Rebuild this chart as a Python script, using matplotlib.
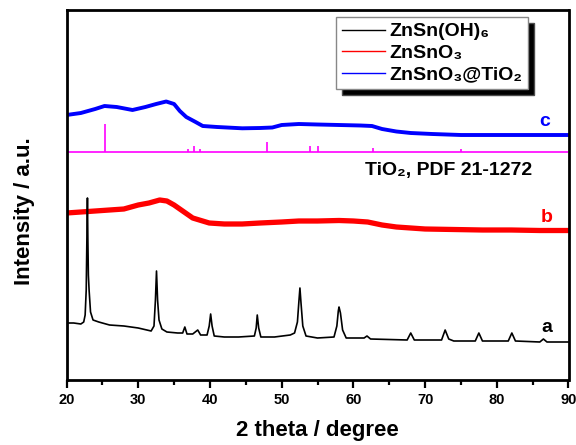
import matplotlib
matplotlib.use('Agg')
import matplotlib.pyplot as plt
from matplotlib.lines import Line2D
from matplotlib.ticker import MultipleLocator

plt.rcParams['font.family'] = ['Liberation Sans', 'DejaVu Sans']
plt.rcParams['font.weight'] = 'bold'
plt.rcParams['axes.labelweight'] = 'bold'

# a: ZnSn(OH)6 (2 theta, intensity a.u.)
theta_a = [20.0, 21.0, 22.0, 22.4, 22.6, 22.75, 22.85, 22.92, 22.98, 23.05, 23.15, 23.35, 23.7,
           24.5, 26.0, 28.0, 30.0, 31.8, 32.2, 32.4, 32.55, 32.7, 32.9, 33.3, 34.0, 35.5,
           36.2, 36.5, 36.8, 37.6, 38.3, 38.7, 39.6, 39.9, 40.1, 40.3, 40.6, 42.0, 44.0,
           46.2, 46.45, 46.6, 46.8, 47.1, 49.0, 51.2, 51.8, 52.2, 52.4, 52.55, 52.7, 52.95,
           53.4, 55.0, 57.3, 57.7, 57.9, 58.0, 58.2, 58.5, 59.0, 61.5, 61.9, 62.4, 67.5,
           68.0, 68.5, 72.3, 72.8, 73.3, 74.0, 77.0, 77.5, 78.0, 81.6, 82.1, 82.6, 86.0,
           86.5, 87.0, 90.0]
int_a = [57, 57, 56, 58, 65, 90, 145, 182, 140, 105, 90, 68, 60,
         58, 55, 54, 52, 49, 54, 80, 109, 80, 60, 51, 48, 47,
         47, 53, 46, 46, 50, 45, 45, 54, 66, 54, 44, 43, 43,
         44, 52, 65, 52, 43, 43, 45, 47, 58, 78, 92, 77, 54,
         44, 42, 43, 54, 69, 73, 67, 50, 42, 42, 44, 41, 40,
         47, 40, 40, 50, 41, 39, 39, 47, 39, 39, 47, 39, 38,
         41, 38, 38]

# b: ZnSnO3
theta_b = [20, 22, 24, 26, 28, 30, 31.5, 33, 34, 35, 36.2, 37.6, 39.9, 42, 44.5, 47, 50,
           52.4, 55, 58, 60, 62, 64, 66, 68, 70, 74, 78, 82, 86, 90]
int_b = [167, 168, 169, 170, 171, 175, 177, 180, 179, 175, 169, 162, 157, 156, 156, 157, 158,
         159, 159, 159.5, 159, 158, 155, 153, 152, 151, 150.5, 150, 150, 149.5, 149.5]

# c: ZnSnO3@TiO2
theta_c = [20, 22, 24, 25.3, 27, 29.2, 31, 32.5, 33.9, 35, 35.8, 36.7, 38, 39, 41, 44.5, 47,
           48.7, 50, 52.4, 55, 58, 61, 62.6, 64, 66, 68, 71, 75, 80, 90]
int_c = [265, 267, 271, 274, 273, 270, 273, 276, 278.5, 276, 269, 263, 258, 254, 253, 251.7, 252,
         252.5, 255, 256, 255.5, 255, 254.5, 254, 251, 248.5, 247, 246, 245, 245, 245]

# TiO2 reference, PDF 21-1272
ref_pos = [25.3, 36.9, 37.8, 38.6, 48.0, 53.9, 55.1, 62.7, 75.0]
ref_height = [28, 3, 6, 3, 10.6, 6, 6, 4.6, 3.6]
ref_base = 227.7

fig = plt.figure(figsize=(5.76, 4.45), dpi=100)
ax = fig.add_axes([66.5 / 576, 65 / 445, 502 / 576, 370 / 445])

ax.hlines(ref_base, 20, 90, color='#FF00FF', lw=1.2)
ax.vlines(ref_pos, ref_base, [ref_base + h for h in ref_height], color='#FF00FF', lw=1.2)
ax.plot(theta_c, int_c, color='#0000FF', lw=2.8)
ax.plot(theta_b, int_b, color='#FF0000', lw=3.8)
ax.plot(theta_a, int_a, color='black', lw=1.2)

ax.text(86.7, 258, 'c', color='#0000FF', fontsize=14, ha='center', va='center')
ax.text(87.0, 163, 'b', color='#FF0000', fontsize=14, ha='center', va='center')
ax.text(87.0, 52, 'a', color='black', fontsize=14, ha='center', va='center')
ax.text(84.9, 209, 'TiO₂, PDF 21-1272', fontsize=14, ha='right', va='center')

ax.set_xlim(20, 90)
ax.set_ylim(0, 370)
ax.xaxis.set_major_locator(MultipleLocator(10))
ax.xaxis.set_minor_locator(MultipleLocator(5))
ax.set_yticks([])
ax.tick_params(axis='x', which='major', direction='out', length=6, width=1.6, labelsize=10.5, pad=3)
ax.tick_params(axis='x', which='minor', direction='out', length=3.5, width=1.6)
for lbl in ax.get_xticklabels():
    lbl.set_fontweight('bold')
for s in ax.spines.values():
    s.set_linewidth(2)

ax.set_xlabel('2 theta / degree', fontsize=16, fontweight='bold', labelpad=10)
fig.text(25 / 576, 1 - 211 / 445, 'Intensity / a.u.', fontsize=16, fontweight='bold',
         rotation=90, ha='center', va='center')

handles = [Line2D([], [], color='black', lw=1),
           Line2D([], [], color='#FF0000', lw=1),
           Line2D([], [], color='#0000FF', lw=1)]
labels = ['ZnSn(OH)₆', 'ZnSnO₃', 'ZnSnO₃@TiO₂']
leg = ax.legend(handles, labels, loc='upper left', bbox_to_anchor=(0.537, 0.981),
                borderaxespad=0, fontsize=14, fancybox=False, framealpha=1,
                edgecolor='#888888', handlelength=2.2, handletextpad=0.25,
                labelspacing=0.2, borderpad=0.3,
                shadow={'ox': 4.3, 'oy': -4.3, 'facecolor': 'black', 'alpha': 1})
leg.get_frame().set_linewidth(1)
for t in leg.get_texts():
    t.set_fontweight('bold')

fig.savefig('out.png', dpi=100)
